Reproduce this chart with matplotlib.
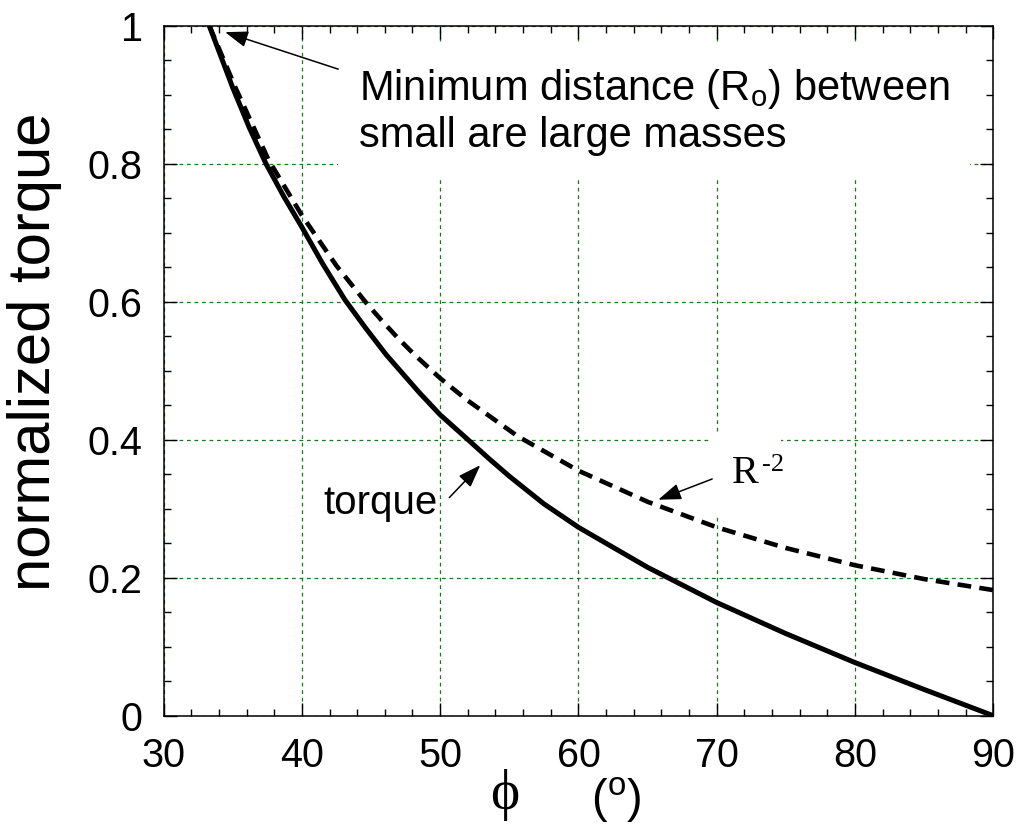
import numpy as np
import matplotlib
matplotlib.use("Agg")
import matplotlib.pyplot as plt
from matplotlib.ticker import MultipleLocator, FuncFormatter

plt.rcParams['font.family'] = ['Liberation Sans', 'DejaVu Sans']
plt.rcParams['mathtext.fontset'] = 'custom'
plt.rcParams['mathtext.rm'] = 'Liberation Sans'
plt.rcParams['mathtext.it'] = 'Liberation Sans:italic'

# values
phi_torque = [33.3, 35.0, 36.2, 37.4, 38.7, 40.0, 41.5, 43.1, 44.6, 46.1,
              48.5, 50.0, 51.9, 53.5, 55.0, 57.5, 60.0, 65.0, 70.0, 75.0, 80.0,
              85.0, 90.0]
torque = [1.000, 0.910, 0.852, 0.800, 0.752, 0.708, 0.655, 0.603, 0.562, 0.523,
          0.468, 0.436, 0.402, 0.373, 0.347, 0.307, 0.273, 0.215, 0.164, 0.119,
          0.077, 0.038, 0.000]

phi_r2 = [33.3, 35.2, 37.6, 40.0, 42.5, 44.7, 45.8, 47.0, 48.2, 50.0, 51.9,
          55.6, 60.0, 65.0, 70.0, 75.0, 80.0, 85.0, 90.0]
r2 = [1.000, 0.910, 0.805, 0.725, 0.652, 0.597, 0.572, 0.546, 0.522, 0.489, 0.458,
      0.405, 0.355, 0.310, 0.273, 0.243, 0.218, 0.198, 0.182]

xticks = [30, 40, 50, 60, 70, 80, 90]
yticks = [0, 0.2, 0.4, 0.6, 0.8, 1.0]

fig = plt.figure(figsize=(10.21, 8.26), dpi=100)
ax = fig.add_axes([0.1602, 0.1335, 0.8127, 0.8356])

ax.plot(phi_torque, torque, color='black', lw=3.6, zorder=4,
        solid_joinstyle='round', solid_capstyle='butt')
ax.plot(phi_r2, r2, color='black', lw=3.3, linestyle=(0, (3.0, 1.8)), zorder=4,
        dash_joinstyle='round')

ax.set_xlim(30, 90)
ax.set_ylim(0, 1)
ax.set_xticks(xticks)
ax.set_yticks(yticks)
ax.xaxis.set_minor_locator(MultipleLocator(2))
ax.yaxis.set_minor_locator(MultipleLocator(0.05))
ax.yaxis.set_major_formatter(FuncFormatter(lambda v, p: '%g' % v))
ax.tick_params(which='both', direction='in', top=True, right=True, labelsize=28.5, pad=15)
ax.tick_params(which='major', length=9.5, width=1)
ax.tick_params(which='minor', length=5, width=1)
for s in ax.spines.values():
    s.set_linewidth(1.1)

ax.grid(True, which='major', color='#1a7a1a', lw=0.9, linestyle=(0, (3, 3)), zorder=1)
ax.set_axisbelow(True)

ax.set_ylabel('normalized torque', fontsize=43)
ax.yaxis.set_label_coords(-0.1225, 0.527)

# x label: phi  (deg)
fig.text(505 / 1021, 1 - 795 / 826, '\u03d5', fontsize=40,
         family=['Liberation Serif', 'DejaVu Serif'], ha='center', va='center')
fig.text(616 / 1021, 1 - 800 / 826, r'$(^{\rm o})$', fontsize=34,
         ha='center', va='center')

arrow = dict(arrowstyle='-|>,head_length=0.7,head_width=0.25', mutation_scale=20,
             color='black', lw=1.1, shrinkA=0, shrinkB=0)

# annotations
ax.text(44.13, 0.824, 'Minimum distance (R$_{\\rm o}$) between\nsmall are large masses',
        fontsize=30, ha='left', va='baseline', linespacing=1.15, zorder=3,
        bbox=dict(boxstyle='square,pad=0.5', fc='white', ec='none'))
ax.annotate('', xy=(34.45, 0.9904), xytext=(42.63, 0.9368), arrowprops=arrow, zorder=5)

ax.text(41.53, 0.2916, 'torque', fontsize=29, ha='left', va='baseline', zorder=3)
ax.annotate('', xy=(52.9, 0.363), xytext=(50.66, 0.316), arrowprops=arrow, zorder=5)

ax.text(71.1, 0.337, 'R', fontsize=29, family=['Liberation Serif', 'DejaVu Serif'],
        ha='left', va='baseline', zorder=3,
        bbox=dict(boxstyle='square,pad=0.55', fc='white', ec='none'))
ax.text(73.25, 0.355, '-2', fontsize=19, family=['Liberation Serif', 'DejaVu Serif'],
        ha='left', va='baseline', zorder=3)
ax.annotate('', xy=(65.77, 0.313), xytext=(69.67, 0.343), arrowprops=arrow, zorder=5)

fig.savefig('out.png', dpi=100)
